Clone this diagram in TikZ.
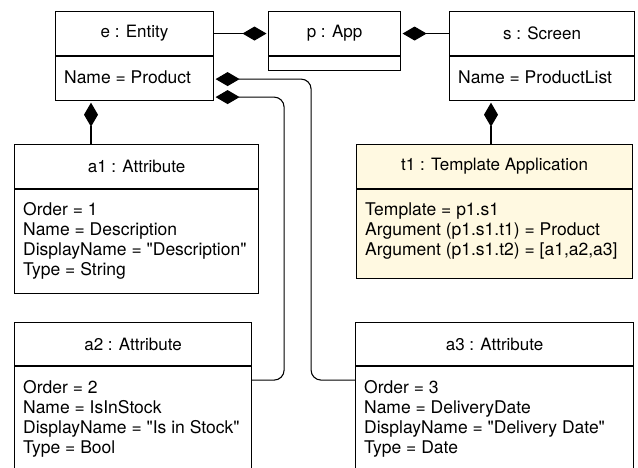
\documentclass[tikz,border=0pt]{standalone}
\usepackage{fontspec}
\setmainfont{TeX Gyre Heros}[Ligatures=TeXOff]
\usetikzlibrary{arrows.meta,calc}

\definecolor{tplfill}{RGB}{255,249,225}

\tikzset{
  box/.style={draw, line width=1.1pt, inner sep=0pt, anchor=north west},
  title/.style={font=\fontsize{17}{20}\selectfont},
  attrs/.style={font=\fontsize{17.5}{20.3}\selectfont, anchor=base west, inner sep=0pt},
  comp/.style={{Diamond[length=24pt,width=14pt,sep=1.5pt]}-, line width=1.1pt},
}

\begin{document}
\begin{tikzpicture}[x=1pt,y=-1pt]
\clip (0,0) rectangle (638,468);

% e : Entity
\node[box, title, minimum width=158pt, minimum height=44pt] (e) at (55,11) {e : Entity};
\node[box, minimum width=158pt, minimum height=44pt] (eb) at (e.south west) {};
\node[attrs] (ebt) at ($(eb.north west)+(9,27)$) {Name = Product};

% p : App
\node[box, title, minimum width=132pt, minimum height=44pt] (p) at (268,11) {p : App};
\node[box, minimum width=132pt, minimum height=14pt] (pb) at (p.south west) {};

% s : Screen
\node[box, title, minimum width=185pt, minimum height=44pt] (s) at (449,11) {s : Screen};
\node[box, minimum width=185pt, minimum height=44pt] (sb) at (s.south west) {};
\node[attrs] (sbt) at ($(sb.north west)+(9,27)$) {Name = ProductList};

% a1 : Attribute
\node[box, title, minimum width=244pt, minimum height=44pt] (a1) at (14,144) {a1 : Attribute};
\node[box, minimum width=244pt, minimum height=104pt] (a1b) at (a1.south west) {};
\node[attrs] (a1t) at ($(a1b.north west)+(9,26)$) {\begin{tabular}[t]{@{}l@{}}
Order = 1\\ Name = Description\\ DisplayName = "Description"\\ Type = String\end{tabular}};

% t1 : Template Application
\node[box, title, fill=tplfill, minimum width=276pt, minimum height=44pt] (t1) at (356,144) {t1 : Template Application};
\node[box, fill=tplfill, minimum width=276pt, minimum height=89pt] (t1b) at (t1.south west) {};
\node[attrs] (t1t) at ($(t1b.north west)+(9,26)$) {\begin{tabular}[t]{@{}l@{}}
Template = p1.s1\\ Argument (p1.s1.t1) = Product\\ Argument (p1.s1.t2) = [a1,a2,a3]\end{tabular}};

% a2 : Attribute
\node[box, title, minimum width=237pt, minimum height=43pt] (a2) at (14,322) {a2 : Attribute};
\node[box, minimum width=237pt, minimum height=125pt] (a2b) at (a2.south west) {};
\node[attrs] (a2t) at ($(a2b.north west)+(9,27)$) {\begin{tabular}[t]{@{}l@{}}
Order = 2\\ Name = IsInStock\\ DisplayName = "Is in Stock"\\ Type = Bool\end{tabular}};

% a3 : Attribute
\node[box, title, minimum width=278pt, minimum height=43pt] (a3) at (355,322) {a3 : Attribute};
\node[box, minimum width=278pt, minimum height=125pt] (a3b) at (a3.south west) {};
\node[attrs] (a3t) at ($(a3b.north west)+(9,27)$) {\begin{tabular}[t]{@{}l@{}}
Order = 3\\ Name = DeliveryDate\\ DisplayName = "Delivery Date"\\ Type = Date\end{tabular}};

% composition links
\draw[comp] (p.west) -- (e.east);
\draw[comp] (p.east) -- (s.west);

\coordinate (ea1) at ($(eb.south west)+(36,0)$);
\draw[comp] (ea1) -- (ea1 |- a1.north);

\coordinate (st1) at ($(sb.south west)+(42,0)$);
\draw[comp] (st1) -- (st1 |- t1.north);

\draw[comp, rounded corners=10pt] ($(eb.north east)+(0,23)$) -- ++(97,0) |- ($(a3b.north west)+(0,14)$);
\draw[comp, rounded corners=10pt] ($(eb.north east)+(0,41)$) -- ++(70,0) |- ($(a2b.north east)+(0,14)$);
\end{tikzpicture}
\end{document}
